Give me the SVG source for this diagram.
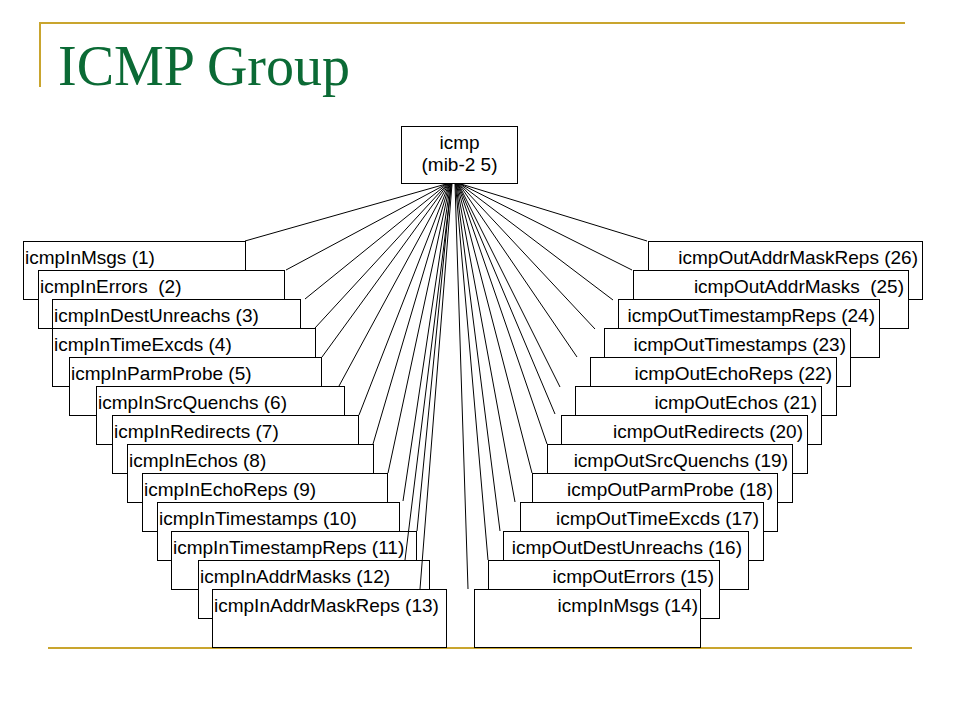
<svg xmlns="http://www.w3.org/2000/svg" width="960" height="720" viewBox="0 0 960 720">
<style>
.bx{fill:#fff;stroke:#000;stroke-width:1}
.t{font-family:"Liberation Sans",Arial,sans-serif;font-size:19px;fill:#000}
.r{text-anchor:end}
.c{text-anchor:middle}
.gold{stroke:#C9A52E;stroke-width:2;fill:none}
#connectors line{stroke:#000;stroke-width:1}
</style>
<rect width="960" height="720" fill="#fff"/>
<g id="frame">
<line class="gold" x1="40" y1="23" x2="905" y2="23"/>
<line class="gold" x1="40" y1="22" x2="40" y2="87"/>
<line class="gold" x1="48" y1="648" x2="912" y2="648"/>
</g>
<text id="title" x="58" y="85" font-family="'Liberation Serif','Times New Roman',serif" font-size="56" fill="#0B6A35" textLength="292" lengthAdjust="spacingAndGlyphs">ICMP Group</text>
<g id="icmp"><rect class="bx" x="401.5" y="126.5" width="116" height="57"/><text class="t c" x="459.5" y="149">icmp</text><text class="t c" x="459.5" y="171">(mib-2 5)</text></g>
<g id="n1"><rect class="bx" x="23.5" y="241.5" width="222" height="58"/><text class="t" x="25" y="264">icmpInMsgs (1)</text></g>
<g id="n2"><rect class="bx" x="38.5" y="270.5" width="246" height="58"/><text class="t" x="40" y="293" xml:space="preserve">icmpInErrors  (2)</text></g>
<g id="n3"><rect class="bx" x="52.5" y="299.5" width="248" height="58"/><text class="t" x="54" y="322">icmpInDestUnreachs (3)</text></g>
<g id="n4"><rect class="bx" x="52.5" y="328.5" width="263" height="58"/><text class="t" x="54" y="351">icmpInTimeExcds (4)</text></g>
<g id="n5"><rect class="bx" x="69.5" y="357.5" width="252" height="58"/><text class="t" x="71" y="380">icmpInParmProbe (5)</text></g>
<g id="n6"><rect class="bx" x="96.5" y="386.5" width="248" height="58"/><text class="t" x="98" y="409">icmpInSrcQuenchs (6)</text></g>
<g id="n7"><rect class="bx" x="112.5" y="415.5" width="246" height="58"/><text class="t" x="114" y="438">icmpInRedirects (7)</text></g>
<g id="n8"><rect class="bx" x="127.5" y="444.5" width="246" height="58"/><text class="t" x="129" y="467">icmpInEchos (8)</text></g>
<g id="n9"><rect class="bx" x="142.5" y="473.5" width="245" height="58"/><text class="t" x="144" y="496">icmpInEchoReps (9)</text></g>
<g id="n10"><rect class="bx" x="157.5" y="502.5" width="242" height="58"/><text class="t" x="159" y="525">icmpInTimestamps (10)</text></g>
<g id="n11"><rect class="bx" x="171.5" y="531.5" width="245" height="58"/><text class="t" x="173" y="554">icmpInTimestampReps (11)</text></g>
<g id="n12"><rect class="bx" x="198.5" y="560.5" width="231" height="58"/><text class="t" x="200" y="583">icmpInAddrMasks (12)</text></g>
<g id="n13"><rect class="bx" x="212.5" y="589.5" width="234" height="58"/><text class="t" x="214" y="612">icmpInAddrMaskReps (13)</text></g>
<g id="n26"><rect class="bx" x="648.5" y="241.5" width="274" height="58"/><text class="t r" x="918" y="264">icmpOutAddrMaskReps (26)</text></g>
<g id="n25"><rect class="bx" x="633.5" y="270.5" width="275" height="58"/><text class="t r" x="904" y="293" xml:space="preserve">icmpOutAddrMasks  (25)</text></g>
<g id="n24"><rect class="bx" x="618.5" y="299.5" width="261" height="58"/><text class="t r" x="875" y="322">icmpOutTimestampReps (24)</text></g>
<g id="n23"><rect class="bx" x="604.5" y="328.5" width="246" height="58"/><text class="t r" x="846" y="351">icmpOutTimestamps (23)</text></g>
<g id="n22"><rect class="bx" x="590.5" y="357.5" width="246" height="58"/><text class="t r" x="832" y="380">icmpOutEchoReps (22)</text></g>
<g id="n21"><rect class="bx" x="575.5" y="386.5" width="246" height="58"/><text class="t r" x="817" y="409">icmpOutEchos (21)</text></g>
<g id="n20"><rect class="bx" x="561.5" y="415.5" width="246" height="58"/><text class="t r" x="803" y="438">icmpOutRedirects (20)</text></g>
<g id="n19"><rect class="bx" x="547.5" y="444.5" width="245" height="58"/><text class="t r" x="788" y="467">icmpOutSrcQuenchs (19)</text></g>
<g id="n18"><rect class="bx" x="532.5" y="473.5" width="245" height="58"/><text class="t r" x="773" y="496">icmpOutParmProbe (18)</text></g>
<g id="n17"><rect class="bx" x="520.5" y="502.5" width="243" height="58"/><text class="t r" x="759" y="525">icmpOutTimeExcds (17)</text></g>
<g id="n16"><rect class="bx" x="503.5" y="531.5" width="245" height="58"/><text class="t r" x="742" y="554">icmpOutDestUnreachs (16)</text></g>
<g id="n15"><rect class="bx" x="488.5" y="560.5" width="231" height="58"/><text class="t r" x="714" y="583">icmpOutErrors (15)</text></g>
<g id="n14"><rect class="bx" x="474.5" y="589.5" width="226" height="58"/><text class="t r" x="698" y="612">icmpInMsgs (14)</text></g>
<g id="connectors">
<line x1="446" y1="184" x2="245" y2="241"/>
<line x1="446.5" y1="184" x2="286" y2="270"/>
<line x1="447" y1="184" x2="305" y2="299"/>
<line x1="447.5" y1="184" x2="315" y2="328"/>
<line x1="448" y1="184" x2="322" y2="357"/>
<line x1="448.5" y1="184" x2="339" y2="386"/>
<line x1="449" y1="184" x2="359" y2="415"/>
<line x1="449.5" y1="184" x2="373" y2="444"/>
<line x1="450" y1="184" x2="388" y2="473"/>
<line x1="450.5" y1="184" x2="403" y2="501"/>
<line x1="451" y1="184" x2="417" y2="531"/>
<line x1="451.5" y1="184" x2="405" y2="560"/>
<line x1="452" y1="184" x2="420" y2="589"/>
<line x1="455" y1="184" x2="468" y2="589"/>
<line x1="455.5" y1="184" x2="488" y2="560"/>
<line x1="456" y1="184" x2="500" y2="531"/>
<line x1="456.5" y1="184" x2="515" y2="502"/>
<line x1="457" y1="184" x2="532" y2="473"/>
<line x1="457.5" y1="184" x2="547" y2="444"/>
<line x1="458" y1="184" x2="555" y2="414"/>
<line x1="458.5" y1="184" x2="560" y2="387"/>
<line x1="459" y1="184" x2="577" y2="357"/>
<line x1="459.5" y1="184" x2="595" y2="329"/>
<line x1="460" y1="184" x2="613" y2="300"/>
<line x1="460.5" y1="184" x2="632" y2="270"/>
<line x1="461" y1="184" x2="647" y2="241"/>
</g>
</svg>
